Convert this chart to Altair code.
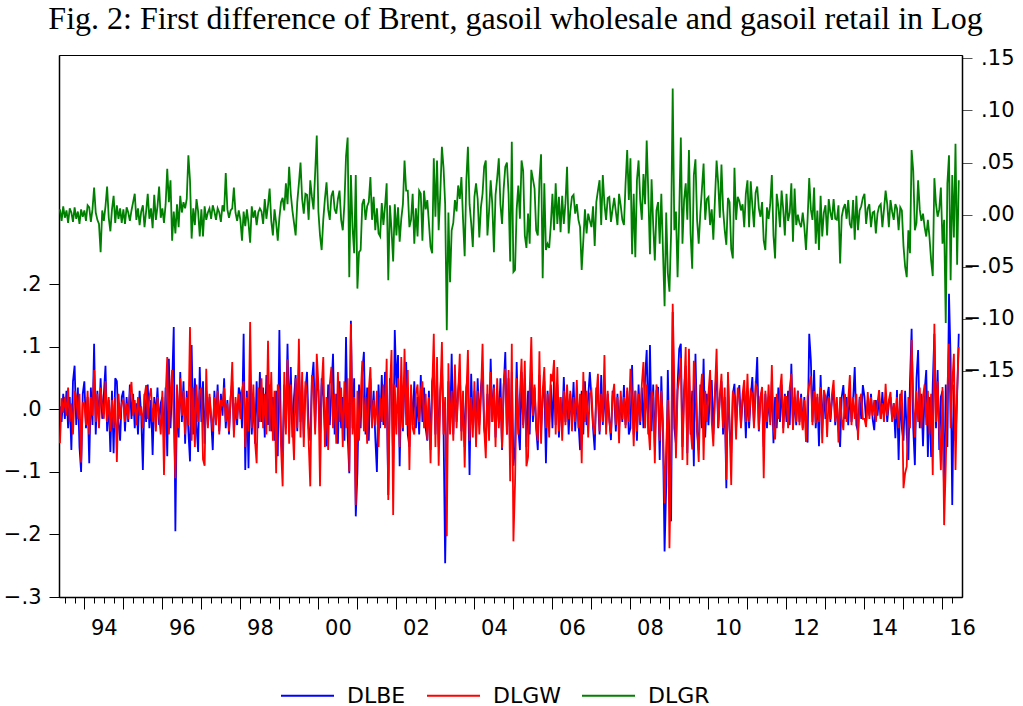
import altair as alt
import pandas as pd

# ---- data (log first differences, in percent), semi-monthly from May 1993 ----
START_YEAR = 1993 + 9 / 24
STEP = 1 / 24

dlbe = [
    # 1993 (May-Dec)
    0.5, -2.0, 2.5, -1.5, 3.0, -3.0, 2.0, -6.5, 4.5, 7.0, -2.5, 3.5, -6.0, -10.0, 2.5,
    # 1994
    4.5, -3.0, 2.0, -8.6, 3.5, -2.5, 10.5, -4.0, 3.0, -2.0, 5.0, -1.5, 2.5, 7.0, -3.5, 1.5, -6.8, 3.0, -7.0, 5.0, 4.5, -2.0, -5.0, 2.0,
    # 1995
    3.0, -3.5, 2.0, -2.0, 4.0, -1.5, 2.5, -3.0, 1.0, -4.0, 3.0, -1.0, -9.7, 2.5, -2.0, 4.0, -3.0, 1.5, -7.3, 2.0, -1.0, 3.5, -2.5, 1.0,
    # 1996
    2.0, -5.0, 3.5, -7.5, 8.1, -3.0, 4.0, 13.2, -19.5, 3.0, -4.5, 6.0, -2.0, 4.5, -5.5, 3.0, -3.5, -8.3, 10.3, -4.0, 5.0, -2.5, -6.8, 6.8,
    # 1997
    -2.0, 4.5, -5.5, 3.0, -2.5, 2.0, -1.5, -6.5, 3.0, -2.0, 4.0, -3.5, 2.5, -1.0, 5.0, -3.0, 1.5, -4.0, 2.0, 4.5, -3.5, 1.0, -2.5, 3.5,
    # 1998
    2.5, -3.0, 12.1, -9.7, 3.0, -9.4, 5.0, -4.0, 2.0, -5.5, 4.5, -3.0, 6.0, -2.0, 3.5, -4.5, 5.5, -2.5, 4.0, -3.5, 2.0, -5.0, 3.0, -7.5,
    # 1999
    12.7, -5.0, -7.0, 4.0, -3.0, 10.5, -2.5, 6.8, -4.5, 2.0, 5.5, -3.5, 7.5, -2.0, 4.0, -4.5, 3.0, 6.0, -3.0, -5.0, 4.5, 7.6, -3.0, 5.0,
    # 2000
    3.0, -4.5, 5.0, 2.0, -3.5, -5.9, 4.0, -2.5, 3.0, 8.9, -4.0, 2.5, -5.5, 4.5, -3.0, 2.0, -5.0, 11.6, -4.0, -10.2, 14.2, -3.0, 5.0, -17.1,
    # 2001
    -10.2, 4.0, -3.0, 6.0, 9.2, -4.0, 3.5, -5.0, 5.0, -2.0, 3.0, -4.5, -10.0, 4.0, -3.0, 5.5, -2.5, 6.0, 3.0, -13.7, 5.0, 4.0, -8.0, 12.7,
    # 2002
    3.5, 8.7, -9.1, 4.0, -3.5, 5.0, 7.6, -4.0, -6.0, 3.0, -2.5, 4.5, -3.0, 2.0, -4.0, 5.5, -2.0, 3.5, -3.0, -5.0, 3.0, -6.5, 4.5, 6.0,
    # 2003
    -4.0, 5.0, -6.0, 3.0, 7.0, -3.0, -24.6, -8.0, 4.5, -3.0, 8.9, -4.0, 5.0, -2.0, 3.0, 6.0, -3.5, 2.0, -6.0, 3.5, 5.5, -10.5, 5.7, -2.5,
    # 2004
    3.0, -4.0, 5.0, -2.5, 3.5, 6.0, -3.0, -5.0, 2.5, -3.5, 8.1, -2.0, 4.0, -4.5, 3.0, -2.0, 5.0, -6.5, 3.5, 9.2, -4.0, 5.0, -7.0, 6.0,
    # 2005
    -9.0, -6.0, 7.6, -3.0, -6.5, 6.0, -2.5, 5.0, -6.0, 3.0, -4.0, 6.0, -2.0, 3.5, -3.0, -6.5, 5.5, -3.5, 2.0, 4.5, -8.6, 3.0, -2.0, 4.0,
    # 2006
    -3.0, 5.0, -2.5, 4.0, -4.5, 2.0, -3.0, 5.2, -2.0, 3.0, -4.0, 2.5, -1.5, 4.4, -3.5, 2.0, -2.0, -6.5, 3.0, -4.0, 4.5, -2.5, 2.0, 6.0,
    # 2007
    2.0, -3.0, -6.5, 3.5, 2.0, -4.0, 5.5, -2.5, 4.0, -3.0, 2.5, -1.5, -4.9, 3.0, 2.0, -3.5, 2.5, -3.0, 1.5, -2.0, 3.9, -2.5, 3.0, -4.0,
    # 2008
    -3.0, 7.1, -4.0, 3.0, -5.0, 4.0, -2.5, 3.5, -3.0, 5.0, 9.5, -4.0, 10.3, -3.5, 4.0, -6.0, 3.0, 3.6, -8.1, 5.3, -4.0, -22.7, -12.3, 6.3,
    # 2009
    -6.0, -17.9, 15.6, -3.0, -5.5, 4.0, 9.7, 10.5, -6.0, 3.0, 7.0, -7.0, 6.5, -4.0, 3.0, -9.1, 8.9, -3.5, -6.5, 4.0, -3.0, 8.1, -4.5, 2.5,
    # 2010
    -2.5, 3.0, 4.7, -4.0, 2.5, 6.0, -3.0, 2.0, 4.5, -4.0, 2.0, -12.6, 5.0, -3.0, -7.0, 2.5, 4.1, -3.0, 2.0, 3.9, -2.5, 1.5, 3.0, -4.6,
    # 2011
    3.0, -3.0, 2.0, 5.2, -2.5, 3.0, 8.4, -3.5, 2.0, 3.0, -6.0, 2.5, -3.0, 2.0, -2.0, 4.5, -5.4, 2.0, -3.0, 3.5, -2.0, 4.0, -3.0, 2.5,
    # 2012
    -2.0, 3.0, -2.5, 7.3, -3.0, 2.0, -2.5, 3.0, -2.0, 2.5, -3.0, 2.0, -3.5, -5.3, 12.1, 7.9, -2.0, 6.3, -3.0, 2.0, -5.9, 5.5, -3.0, 2.5,
    # 2013
    -1.5, 2.0, 3.6, -2.0, 1.5, 3.0, -2.5, 1.0, -3.0, -6.0, 2.0, 3.9, -1.5, 2.0, -2.5, 3.0, -2.0, 1.5, 6.8, -2.5, -3.5, 2.0, -1.5, 3.9,
    # 2014
    2.0, -2.0, 1.5, -1.0, 2.5, -1.5, -3.3, 1.5, -1.0, 2.0, -1.5, 2.8, -1.0, 2.0, -2.0, 1.0, 2.0, -1.5, 1.0, -4.6, 3.1, -8.1, 2.5, -3.0,
    # 2015
    -5.0, 3.0, -4.0, -8.1, 4.5, 12.9, -3.0, -8.9, 5.0, 9.5, -3.0, 2.5, -5.9, 3.0, 6.3, -7.6, 2.0, -7.6, 4.0, 12.1, -3.0, 6.3, -6.5, 2.0,
    # 2016 (Jan-May)
    3.0, -14.0, 4.0, -6.0, 18.5, 8.0, -15.3, 4.0, -5.0, 2.0, 12.1,
]

dlgw = [
    # 1993 (May-Dec)
    -5.4, 1.8, -0.5, 2.0, -1.0, 3.5, -2.0, 1.0, -4.0, 3.0, 2.0, -1.5, 2.5, -8.5, 1.0,
    # 1994
    1.0, -2.5, 3.0, -4.0, 2.0, -1.0, 6.3, -2.0, 2.5, -3.0, 3.5, 0.5, -1.5, 4.5, -2.0, 2.0, -3.5, 1.5, -3.0, 2.0, -8.4, 2.5, -1.5, 1.0,
    # 1995
    1.5, -2.0, 1.0, -1.5, 2.5, 4.4, -1.0, 1.5, -2.5, 2.0, -1.0, 0.5, -3.0, 2.0, 3.9, -1.5, 2.0, 3.4, -2.0, 1.0, -3.5, 2.0, -1.0, -4.0,
    # 1996
    3.0, -10.5, 2.0, 8.4, -4.0, 2.5, 6.3, -2.0, -11.0, 4.0, -3.0, 5.0, -1.0, 3.0, -4.0, 2.0, -2.5, 13.2, -5.0, 3.5, -6.0, 4.0, -2.0, 3.0,
    # 1997
    3.5, -8.0, -9.0, 6.5, -3.0, 2.5, -1.0, -3.5, 2.0, -2.5, 3.0, -4.0, 1.5, 0.5, 3.5, -2.0, 1.0, -3.5, 1.5, 7.6, -4.5, 2.0, -1.5, 2.5,
    # 1998
    -1.5, 3.0, 4.5, -6.0, 2.0, -3.5, 14.0, -3.0, 4.0, -5.0, -8.6, 3.5, -2.0, 5.0, -3.0, 2.5, -4.0, 11.0, -3.5, 6.0, -5.0, 3.0, -10.2, 4.0,
    # 1999
    3.0, -6.0, -12.3, 6.0, -4.0, 8.0, -5.5, 4.0, -2.0, -8.1, 5.0, -3.0, 11.3, -4.5, 6.0, -6.0, 4.5, 2.5, -5.0, -12.3, 5.5, 3.5, -4.0, 8.9,
    # 2000
    4.0, -12.3, 3.5, 8.4, -6.0, 2.0, -6.5, 4.0, 6.8, -3.0, 2.5, -5.5, 6.0, -2.0, 3.5, -6.0, 4.5, -3.0, 5.0, -9.9, 13.7, -4.0, 2.0, -15.3,
    # 2001
    3.0, -5.0, 2.0, 7.8, -3.5, 2.0, -5.5, 3.0, 6.8, -3.0, 1.5, -2.5, 3.0, -6.0, 2.0, -2.0, 4.0, -3.0, 8.1, -14.5, 3.0, 9.5, -16.9, 4.0,
    # 2002
    -4.0, 5.0, -6.0, 8.4, -3.0, 9.7, -2.5, 6.3, -9.7, 4.0, -3.0, -4.0, 2.5, 4.0, -2.0, 3.0, 4.5, -3.0, 2.5, -4.9, 2.0, -8.6, 3.0, 12.1,
    # 2003
    -6.0, 8.4, -9.0, 2.0, 10.8, -4.0, 2.0, -20.3, 7.4, -4.0, 3.0, -5.0, 7.2, -3.0, 2.5, 8.9, -5.0, 3.0, -9.3, 2.0, 9.5, -5.0, 2.0, -4.5,
    # 2004
    4.5, -6.0, 3.0, -4.0, 2.0, 10.5, -3.0, -7.8, 4.0, -5.0, 6.0, -2.0, 3.5, -6.0, 5.0, -3.0, 2.0, -6.2, 4.0, 6.5, -4.0, 6.3, -11.5, 10.5,
    # 2005
    -21.1, -11.7, 5.0, -4.0, 2.5, 8.1, -3.0, 7.8, -9.1, -7.6, 3.0, 11.6, -1.0, 4.0, -2.5, -5.0, 9.3, -5.5, 3.0, 6.8, -3.0, 2.5, -4.5, 5.7,
    # 2006
    4.5, 7.9, -4.0, 6.8, -3.5, 2.0, -5.0, 3.0, -2.5, 4.0, -1.5, 3.0, -3.5, 2.0, -2.0, 4.7, -3.0, 2.5, -8.6, 6.0, -2.0, 3.0, -4.5, 2.5,
    # 2007
    3.0, -2.5, -4.0, 2.0, 5.7, -3.5, 2.5, -2.0, 8.7, -4.0, 3.0, -2.0, -3.8, 2.0, 4.1, -2.5, 2.0, -5.4, 3.0, -1.5, 2.0, -3.0, 3.5, -2.0,
    # 2008
    6.5, 2.0, -5.9, 3.0, -3.5, 2.5, -2.0, 4.0, 7.6, -3.0, 4.0, -2.5, -6.5, 3.0, 2.0, -8.6, 4.0, 2.3, -5.0, 3.0, -2.0, -15.0, -6.0, 1.5,
    # 2009
    -22.2, -8.0, 16.9, 4.0, -7.8, 3.0, 5.0, 8.2, -8.1, 2.5, 10.0, -8.9, 9.7, -3.0, -6.4, 7.8, 4.0, -3.0, -8.4, 2.0, 5.7, -8.1, 3.0, -2.0,
    # 2010
    2.5, 6.3, -2.0, -5.9, 3.0, 9.7, -2.8, 2.0, 5.7, -3.0, 3.5, -11.3, 6.0, -2.5, -12.1, 3.0, 2.0, -4.8, 3.5, 2.0, -3.0, 2.5, 4.7, -2.0,
    # 2011
    5.7, -2.0, 3.0, 2.5, -3.0, 4.0, 3.5, -3.3, 2.0, 3.6, -11.0, 3.0, -2.0, 4.0, -2.5, 7.1, -3.0, -4.8, 2.5, -1.5, 3.0, 5.7, -3.8, 2.0,
    # 2012
    2.0, -3.0, 3.5, 5.7, -3.3, 3.5, -2.0, 3.0, -2.5, 2.0, -3.3, 1.5, -5.2, 2.0, 4.0, 5.3, -2.5, 3.0, -2.2, 2.5, -2.0, 3.6, -5.4, 3.1,
    # 2013
    2.0, -4.4, 2.0, -1.5, 2.5, 4.7, -2.0, 2.0, -5.3, 2.0, -1.5, -3.3, 2.5, -2.0, 1.5, 5.5, -2.5, 2.0, -1.5, 2.5, -4.9, 1.5, 2.5, -1.5,
    # 2014
    -1.5, -2.8, 2.8, -1.5, 2.0, -1.0, 1.5, -2.0, 1.0, 3.1, -1.5, 1.0, -2.0, 4.1, -1.0, 1.5, 2.8, -2.0, 1.0, -1.5, 2.0, -3.0, 1.5, 3.1,
    # 2015
    -12.6, -10.2, -9.1, 2.0, -3.0, 11.1, 2.0, -4.5, 3.0, -2.0, 3.5, -3.0, 2.0, 4.0, -2.5, 3.0, -4.0, 2.5, -10.5, 13.7, -2.0, 4.5, -3.0, -9.7,
    # 2016 (Jan-May)
    3.6, -18.5, -9.0, 3.0, 10.5, -3.0, 4.0, 8.9, -9.7, 3.0, 10.0,
]

dlgr = [
    # 1993 (May-Dec)
    0.5, -0.6, 0.8, -0.3, 0.4, -0.8, 0.6, 0.2, -0.7, 0.7, -0.4, 0.3, -0.9, 0.5, -0.2,
    # 1994
    0.4, -0.6, 0.9, 0.7, -0.7, 0.5, 2.6, 0.2, -0.5, -0.9, -3.6, 0.4, -0.6, 0.8, 2.7, -0.3, -1.6, 0.5, 1.8, -0.8, 0.9, -0.4, 0.6, -0.8,
    # 1995
    0.5, -0.9, 0.7, 0.2, -0.6, 0.4, 1.2, 2.0, -0.5, 0.6, -1.0, 0.3, 0.9, -1.2, 0.3, 2.0, -0.4, 0.6, -1.3, 1.9, -0.5, 0.8, 2.7, -0.3,
    # 1996
    0.6, -0.8, 1.0, 4.4, 1.2, 3.3, -2.5, 0.3, -1.8, 1.0, -1.2, 1.8, 0.2, 1.2, 0.6, 1.5, 5.7, 3.3, -2.3, 0.6, -1.0, 1.5, 0.3, -2.1,
    # 1997
    0.5, -2.1, 0.8, -0.5, 0.2, 0.6, -0.4, 0.9, 0.3, -0.5, 0.6, 0.2, -0.7, 0.9, 0.3, 4.0, 0.5, -0.3, 0.4, 0.6, 2.6, 0.2, -0.6, 0.4,
    # 1998
    -0.5, -2.5, 0.3, -1.1, 0.5, -0.8, -2.7, 0.8, -0.3, 0.4, -1.0, 0.2, 0.6, 0.3, -0.9, 1.5, -0.4, 0.9, 2.5, -0.6, -2.0, 0.5, -0.8, -2.5,
    # 1999
    -0.3, 1.2, 1.6, 0.4, 3.0, 1.0, 4.6, 2.0, 0.4, -0.8, -2.0, 1.2, 3.0, 5.0, 1.5, 0.1, 2.0, 1.9, -0.5, 3.3, 1.7, 0.5, 4.0, 7.6,
    # 2000
    0.3, -2.0, -3.4, -0.5, 1.5, 3.1, 0.5, -0.5, 1.8, 2.3, 0.5, 0.1, 1.5, 2.3, -0.5, -1.5, 1.0, 5.6, 7.4, -6.0, 3.8, -1.2, -3.7, 3.8,
    # 2001
    -7.1, -3.6, -3.4, 1.0, 1.5, -0.5, 0.8, 1.2, 3.6, -0.5, 1.7, -1.5, 0.6, -1.8, -2.1, 1.1, -1.0, 0.8, 3.0, -6.3, 0.9, -1.5, -4.5, 1.0,
    # 2002
    -2.0, 0.7, -2.6, -0.4, 1.0, 5.2, 2.3, 2.3, -1.2, -0.5, 2.0, -2.8, 0.6, -2.1, 2.3, 2.0, -2.5, 2.3, 0.5, 1.4, -0.8, -3.1, -3.7, 5.4,
    # 2003
    -0.2, 5.2, -1.5, 2.0, 6.5, 4.5, 1.0, -11.1, 0.2, -6.5, -1.5, -0.8, 1.4, 0.3, 2.8, 1.5, 3.6, -0.5, -4.0, 3.2, 6.5, 1.0, -0.8, -3.1,
    # 2004
    1.7, 3.0, 1.5, -2.2, 0.7, 2.0, 4.6, 5.2, -2.0, 0.3, 3.3, 1.0, -3.6, 1.9, 3.5, 5.4, 1.0, -0.9, 2.5, 4.6, 5.0, 2.0, -4.5, 7.0,
    # 2005
    -5.5, -5.3, 0.5, 2.8, -0.4, 5.2, 4.2, -2.0, -3.2, 0.1, -2.8, 4.3, 3.4, 2.5, -1.5, -2.0, 3.3, 5.8, -6.1, 3.0, -3.4, -2.8, -3.2, -1.0,
    # 2006
    2.0, -1.5, 3.0, -0.9, 1.7, -1.7, 1.8, -0.9, 1.1, 4.6, -1.8, 0.3, 1.7, 1.9, 0.1, 1.0, -0.5, -1.2, -5.3, -2.5, 0.5, -1.8, 0.1, -0.6,
    # 2007
    -1.2, 0.8, -3.0, 1.2, 2.3, 3.3, -1.0, 3.8, 1.0, -0.5, 1.6, 1.7, -0.7, 0.5, 1.6, 0.3, -1.0, 2.0, 0.9, -0.5, -1.0, 3.0, 6.2, 1.4,
    # 2008
    5.4, -3.8, 2.0, -4.1, 3.3, 5.2, 1.4, -0.5, 3.9, 1.0, 7.1, 2.0, -3.8, 3.4, -1.0, -4.4, 0.4, 1.2, -2.8, 2.0, -3.4, -8.8, 0.2, -5.6,
    # 2009
    -7.4, -1.8, 12.1, -1.5, 0.3, -6.0, 0.1, 7.4, -2.8, 1.4, 3.0, -0.5, 6.2, -1.8, -5.2, 3.8, 5.3, -0.5, -2.8, 0.1, 2.5, 4.9, -0.5, 1.5,
    # 2010
    1.7, -1.0, 0.5, -2.4, 1.5, 5.2, 3.0, -0.3, 4.8, 0.5, -1.5, -2.9, 1.6, 1.2, -3.3, -4.2, 4.5, -0.5, 1.7, 1.3, 0.4, 1.0, -1.2, 2.0,
    # 2011
    3.3, -1.2, 3.2, 0.9, -1.2, 2.1, 2.7, 0.6, -0.2, 1.2, -2.5, -3.4, 0.7, -0.4, 1.0, 3.8, -2.0, -4.2, 2.0, 0.8, -1.2, 2.3, 0.5, -2.0,
    # 2012
    2.0, -0.6, 0.2, 3.0, -2.6, 2.5, -1.0, 0.0, -0.8, -1.2, 0.2, -1.2, -3.4, -0.4, 3.5, 0.5, -0.5, 2.6, -2.8, 0.4, -3.4, 1.8, -2.1, 0.2,
    # 2013
    0.9, -2.0, 1.5, 0.2, -0.5, 1.5, -0.4, -0.5, 0.9, -4.7, -0.2, 0.6, 1.0, -0.4, 1.4, -0.9, -1.3, 1.4, -2.4, 1.8, -1.5, 0.4, 0.8, 1.6,
    # 2014
    2.0, -0.9, 0.6, 1.0, -1.2, 0.2, 0.3, -1.8, 0.1, 0.8, 1.0, -1.2, 0.5, 2.3, 1.0, -1.2, 1.4, 0.3, -0.5, 1.0, 0.6, -1.5, 0.7, 0.4,
    # 2015
    -3.0, -5.0, -6.0, -1.5, -3.7, 6.2, 4.2, -1.5, -0.8, 3.3, 0.5, -0.6, 0.1, -1.2, -2.1, -0.5, -2.2, -4.4, -5.9, 3.5, 1.0, -0.2, 0.5, 2.6,
    # 2016 (Jan-May)
    -2.8, -0.5, -10.4, 3.0, 5.7, -6.3, 3.8, -2.2, 6.8, -4.8, 3.3,
]

series_names = ["DLBE", "DLGW", "DLGR"]
series_colors = ["#0000ff", "#ff0000", "#008000"]
label_years = [1994, 1996, 1998, 2000, 2002, 2004, 2006, 2008, 2010, 2012, 2014, 2016]
left_ticks = [-0.3, -0.2, -0.1, 0.0, 0.1, 0.2]
right_ticks = [-0.15, -0.10, -0.05, 0.0, 0.05, 0.10, 0.15]


def frame(values, name):
    return pd.DataFrame({
        "t": [START_YEAR + i * STEP for i in range(len(values))],
        "v": [x / 100 for x in values],
        "series": name,
    })


left_df = pd.concat([frame(dlbe, "DLBE"), frame(dlgw, "DLGW")], ignore_index=True)
right_df = frame(dlgr, "DLGR")
label_df = pd.DataFrame({"pos": [y + 0.5 for y in label_years]})

X_DOMAIN = [1993.35, 2016.5]
quarter_ticks = [1993.5 + 0.25 * k for k in range(92)]
year_ticks = list(range(1994, 2017))

FONT = "DejaVu Sans"
LBL = 21
LW = 1.8

color = alt.Color(
    "series:N",
    scale=alt.Scale(domain=series_names, range=series_colors),
    legend=alt.Legend(title=None),
)

xscale = alt.Scale(domain=X_DOMAIN, nice=False, zero=False)

left = alt.Chart(left_df).mark_line(strokeWidth=LW).encode(
    x=alt.X("t:Q", scale=xscale,
            axis=alt.Axis(values=quarter_ticks, tickSize=6, labels=False, grid=False,
                          title=None, orient="bottom", domainColor="black",
                          domainWidth=1.5, tickColor="black", tickWidth=1)),
    y=alt.Y("v:Q", scale=alt.Scale(domain=[-0.3, 0.567], nice=False, zero=False),
            axis=alt.Axis(values=left_ticks, orient="left", grid=False, title=None,
                          labelExpr="replace(format(datum.value, '.1f'), '0.', '.')",
                          tickSize=10, labelPadding=8, labelFont=FONT, labelFontSize=LBL,
                          labelColor="black", domainColor="black", domainWidth=1.5,
                          tickColor="black")),
    color=color,
    detail="series:N",
)

right = alt.Chart(right_df).mark_line(strokeWidth=LW).encode(
    x=alt.X("t:Q", scale=xscale,
            axis=alt.Axis(values=year_ticks, tickSize=12, labels=False, grid=False,
                          domain=False, title=None, orient="bottom",
                          tickColor="black", tickWidth=1)),
    y=alt.Y("v:Q", scale=alt.Scale(domain=[-0.367, 0.1532], nice=False, zero=False),
            axis=alt.Axis(values=right_ticks, orient="right", grid=False, title=None,
                          labelExpr="replace(format(datum.value, '.2f'), '0.', '.')",
                          tickSize=10, labelPadding=42, labelAlign="right",
                          labelFont=FONT, labelFontSize=LBL,
                          labelColor="black", domainColor="black", domainWidth=1.5,
                          tickColor="#555555")),
    color=color,
)

labels = alt.Chart(label_df).mark_point(opacity=0).encode(
    x=alt.X("pos:Q", scale=xscale,
            axis=alt.Axis(values=[y + 0.5 for y in label_years], ticks=False, domain=False,
                          grid=False, title=None, orient="bottom", labelFlush=False,
                          labelOverlap=False,
                          labelExpr="substring(toString(floor(datum.value)), 2, 4)",
                          labelPadding=20, labelFont=FONT, labelFontSize=LBL,
                          labelColor="black")),
    y=alt.value(0),
)

chart = alt.layer(left, right, labels).resolve_scale(
    y="independent"
).resolve_axis(
    x="independent"
).properties(
    width=903,
    height=542,
    autosize=alt.AutoSizeParams(type="none"),
    padding={"left": 59, "top": 55, "right": 61, "bottom": 109},
    title=alt.TitleParams(
        "Fig. 2: First difference of Brent, gasoil wholesale and gasoil retail in Log",
        font="Liberation Serif", fontSize=32, fontWeight="normal", color="black",
        anchor="middle", frame="group", offset=24, baseline="alphabetic", dx=5, dy=38,
    ),
).configure_view(
    stroke="black", strokeWidth=1
).configure_legend(
    orient="none", legendX=221, legendY=613, direction="horizontal",
    symbolType="stroke", symbolSize=2809, symbolStrokeWidth=2,
    labelFont=FONT, labelFontSize=22, labelColor="black",
    columnPadding=17, labelOffset=12,
)

chart.save("out.html", embed_options={"renderer": "svg", "actions": False})
